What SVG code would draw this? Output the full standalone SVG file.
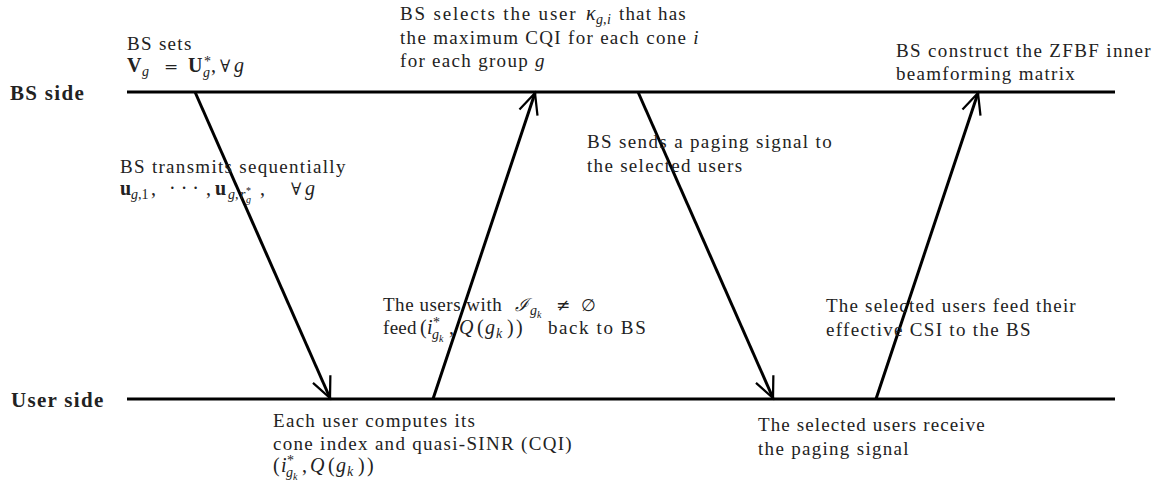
<svg xmlns="http://www.w3.org/2000/svg" width="1161" height="491" viewBox="0 0 1161 491">
<style>
text{font-family:"Liberation Serif","DejaVu Serif",serif;fill:#222}
.t{font-size:19px;letter-spacing:1.3px}
.lbl{font-size:21px;font-weight:bold;letter-spacing:1.3px}
.m{font-size:20px;letter-spacing:0}
.i{font-style:italic;letter-spacing:0}
.b{font-weight:bold;letter-spacing:0}
.s{font-size:14px;letter-spacing:0}
.ss{font-size:10px;letter-spacing:0}
.sym{font-family:"DejaVu Serif",serif;font-size:17px;letter-spacing:0}
.line{stroke:#000;stroke-width:3;fill:none}
.arr{stroke:#000;stroke-width:3;fill:none;marker-end:url(#ah)}
</style>
<defs>
<marker id="ah" markerUnits="userSpaceOnUse" markerWidth="30" markerHeight="30" refX="0" refY="0" viewBox="-20 -12 24 24" orient="auto" overflow="visible">
<path d="M-16.5,-7.6 L0,0 L-16.5,7.6" fill="none" stroke="#000" stroke-width="1.8"/>
</marker>
</defs>

<g id="bs-side">
<text class="lbl" x="10" y="100">BS side</text>
<line class="line" x1="127" y1="92" x2="1115" y2="92"/>
</g>
<g id="user-side">
<text class="lbl" x="11" y="407">User side</text>
<line class="line" x1="127" y1="399" x2="1115" y2="399"/>
</g>

<g id="connectors">
<line class="arr" x1="195" y1="92" x2="330" y2="398"/>
<line class="arr" x1="433" y1="399" x2="535" y2="93"/>
<line class="arr" x1="638" y1="92" x2="773" y2="398"/>
<line class="arr" x1="876" y1="399" x2="978" y2="93"/>
</g>

<g id="bs-sets">
<text class="t" x="127" y="50">BS sets</text>
<text class="m">
<tspan class="b" x="127" y="72">V</tspan><tspan class="i s" x="142" y="76">g</tspan>
<tspan class="sym" x="164" y="72" font-size="21">=</tspan>
<tspan class="b" x="188" y="72">U</tspan><tspan class="s" x="204" y="66">*</tspan><tspan class="i s" x="203" y="77">g</tspan>
<tspan x="211" y="72">,</tspan><tspan class="sym" x="220" y="72">∀</tspan><tspan class="i" x="234" y="72">g</tspan>
</text>
</g>

<g id="bs-transmits">
<text class="t" x="120" y="173">BS transmits sequentially</text>
<text class="m">
<tspan class="b" x="120" y="195">u</tspan><tspan class="s" x="131" y="199"><tspan class="i">g</tspan>,1</tspan>
<tspan x="151" y="195">,</tspan><tspan x="169" y="195">· · ·</tspan><tspan x="206" y="195">,</tspan>
<tspan class="b" x="215" y="195">u</tspan><tspan class="s i" x="228" y="199">g</tspan><tspan class="s" x="235" y="199">,</tspan><tspan class="s i" x="240" y="199">r</tspan><tspan class="ss" x="246" y="194">*</tspan><tspan class="ss i" x="246" y="203">g</tspan>
<tspan x="260" y="195">,</tspan>
<tspan class="sym" x="291" y="195">∀</tspan><tspan class="i" x="305" y="195">g</tspan>
</text>
</g>

<g id="users-compute">
<text class="t" x="273" y="427">Each user computes its</text>
<text class="t" x="273" y="450">cone index and quasi-SINR (CQI)</text>
<text class="m">
<tspan x="273" y="472">(</tspan><tspan class="i" x="281" y="472">i</tspan><tspan class="s" x="287" y="465">*</tspan><tspan class="s i" x="286" y="477">g</tspan><tspan class="ss i" x="293" y="480">k</tspan>
<tspan x="302" y="472">,</tspan><tspan class="i" x="310" y="472">Q</tspan><tspan x="328" y="472">(</tspan><tspan class="i" x="336" y="472">g</tspan><tspan class="s i" x="347" y="476">k</tspan><tspan x="358" y="472">)</tspan><tspan x="367" y="472">)</tspan>
</text>
</g>

<g id="users-feed">
<text class="t" x="383" y="311" textLength="120" lengthAdjust="spacing">The users with</text>
<text class="m"><tspan class="i" x="515" y="311" font-family="DejaVu Serif" font-size="18">ℐ</tspan><tspan class="s i" x="530" y="315">g</tspan><tspan class="ss i" x="537" y="318">k</tspan><tspan class="sym" x="556" y="311">≠</tspan><tspan class="sym" x="581" y="311">∅</tspan></text>
<text class="t" x="383" y="334" style="letter-spacing:0.3px">feed</text>
<text class="m"><tspan x="420" y="334">(</tspan><tspan class="i" x="427" y="334">i</tspan><tspan class="s" x="433" y="327">*</tspan><tspan class="s i" x="432" y="339">g</tspan><tspan class="ss i" x="439" y="342">k</tspan><tspan x="449" y="334">,</tspan><tspan class="i" x="459" y="334">Q</tspan><tspan x="477" y="334">(</tspan><tspan class="i" x="485" y="334">g</tspan><tspan class="s i" x="496" y="338">k</tspan><tspan x="507" y="334">)</tspan><tspan x="516" y="334">)</tspan></text>
<text class="t" x="548" y="334" textLength="99" lengthAdjust="spacing">back to BS</text>
</g>

<g id="bs-selects">
<text class="t" x="400" y="20" textLength="177" lengthAdjust="spacing">BS selects the user</text>
<text class="m"><tspan class="i" x="586" y="20">κ</tspan><tspan class="s i" x="596" y="24">g</tspan><tspan class="s" x="603" y="24">,</tspan><tspan class="s i" x="607" y="24">i</tspan></text>
<text class="t" x="619" y="20" textLength="68" lengthAdjust="spacing">that has</text>
<text class="t" x="400" y="44">the maximum CQI for each cone <tspan class="i">i</tspan></text>
<text class="t" x="400" y="67">for each group <tspan class="i">g</tspan></text>
</g>

<g id="bs-sends">
<text class="t" x="587" y="148" textLength="246" lengthAdjust="spacing">BS sends a paging signal to</text>
<text class="t" x="587" y="172">the selected users</text>
</g>

<g id="users-receive">
<text class="t" x="758" y="431" textLength="228" lengthAdjust="spacing">The selected users receive</text>
<text class="t" x="758" y="455">the paging signal</text>
</g>

<g id="users-feed-csi">
<text class="t" x="826" y="312" textLength="251" lengthAdjust="spacing">The selected users feed their</text>
<text class="t" x="826" y="336">effective CSI to the BS</text>
</g>

<g id="bs-construct">
<text class="t" x="896" y="57" textLength="256" lengthAdjust="spacing">BS construct the ZFBF inner</text>
<text class="t" x="896" y="80">beamforming matrix</text>
</g>
</svg>
